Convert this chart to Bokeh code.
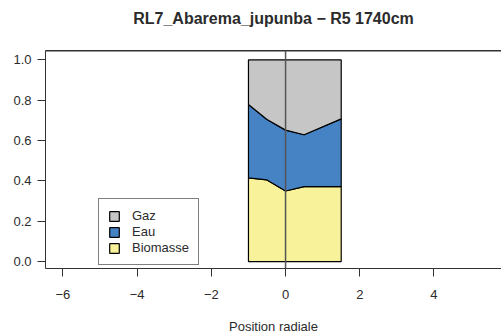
import numpy as np
from bokeh.plotting import figure
from bokeh.models import Range1d, FixedTicker, LinearAxis, Span, Legend, LegendItem, NumeralTickFormatter
from bokeh.embed import file_html
from bokeh.resources import INLINE

# ---- data ----
positions = [-1.0, -0.5, 0.0, 0.5, 1.5]
biomasse = [0.415, 0.405, 0.350, 0.372, 0.372]
eau = [0.364, 0.300, 0.302, 0.257, 0.336]
gaz = [0.221, 0.295, 0.348, 0.371, 0.292]
layer_names = ["Biomasse", "Eau", "Gaz"]
layer_colors = ["#f8f29a", "#4583c4", "#c6c6c6"]
x_ticks = [-6, -4, -2, 0, 2, 4, 6]
x_tick_labels = ["\u22126", "\u22124", "\u22122", "0", "2", "4", "6"]
y_ticks = [0.0, 0.2, 0.4, 0.6, 0.8, 1.0]
title_text = "RL7_Abarema_jupunba \u2212 R5 1740cm"
x_label = "Position radiale"
center_line = 0

FONT = "Liberation Sans"
TXT = "#2b2b2b"
LN = "#333333"

yr = Range1d(-0.0346, 1.047)
p = figure(width=501, height=336,
           x_range=Range1d(-6.47, 5.82), y_range=yr,
           output_backend="svg", toolbar_location=None,
           min_border_left=45, min_border_right=0, min_border_bottom=67, min_border_top=50,
           x_axis_label=x_label)
p.outline_line_color = None
p.background_fill_color = "white"
p.border_fill_color = "white"
p.xgrid.visible = False
p.ygrid.visible = False

for ax in (p.xaxis[0], p.yaxis[0]):
    ax.axis_line_color = LN
    ax.axis_line_width = 1
    ax.major_tick_line_color = LN
    ax.major_tick_out = 8
    ax.major_tick_in = 0
    ax.minor_tick_line_color = None
    ax.major_label_text_font = FONT
    ax.major_label_text_font_size = "13px"
    ax.major_label_text_color = TXT
    ax.axis_label_text_font = FONT
    ax.axis_label_text_font_size = "13px"
    ax.axis_label_text_font_style = "normal"
    ax.axis_label_text_color = TXT

p.xaxis[0].ticker = FixedTicker(ticks=x_ticks)
p.xaxis[0].major_label_overrides = {t: l for t, l in zip(x_ticks, x_tick_labels)}
p.xaxis[0].major_label_standoff = 13
p.xaxis[0].axis_label_standoff = 17

p.yaxis[0].ticker = FixedTicker(ticks=y_ticks)
p.yaxis[0].formatter = NumeralTickFormatter(format="0.0")
p.yaxis[0].major_label_standoff = 6
p.yaxis[0].major_label_orientation = "horizontal"

# top border of the plotting box, carrying the chart title (centred over the box)
top = LinearAxis(ticker=FixedTicker(ticks=[]), major_tick_out=0, major_tick_in=0,
                 minor_tick_out=0, minor_tick_in=0, major_label_standoff=0,
                 axis_line_color=LN, axis_line_width=1,
                 axis_label=title_text, axis_label_standoff=24,
                 axis_label_text_font=FONT, axis_label_text_font_size="16px",
                 axis_label_text_font_style="bold", axis_label_text_color=TXT)
p.add_layout(top, "above")
# make sure the top edge of the box is drawn (half a pixel inside the frame)
p.add_layout(Span(location=yr.end - 0.0025, dimension="width", line_color=LN, line_width=1))

series = {"Biomasse": biomasse, "Eau": eau, "Gaz": gaz}
lower = np.zeros(len(positions))
items = {}
for name, color in zip(layer_names, layer_colors):
    upper = lower + np.array(series[name])
    xs = list(positions) + list(positions[::-1])
    ys = list(upper) + list(lower[::-1])
    r = p.patch(xs, ys, fill_color=color, line_color="black", line_width=1.2)
    items[name] = r
    lower = upper

p.add_layout(Span(location=center_line, dimension="height", line_color="#555555", line_width=1.5))

legend = Legend(items=[LegendItem(label=n, renderers=[items[n]]) for n in ["Gaz", "Eau", "Biomasse"]],
                location=(53, 3), padding=9, spacing=1, margin=0,
                glyph_width=12, glyph_height=12, label_height=15, label_standoff=12,
                label_text_font=FONT, label_text_font_size="13px", label_text_color=TXT,
                border_line_color="black", border_line_width=1,
                background_fill_color="white", background_fill_alpha=1)
p.add_layout(legend, "center")

open("out.html", "w").write(file_html(p, INLINE))
